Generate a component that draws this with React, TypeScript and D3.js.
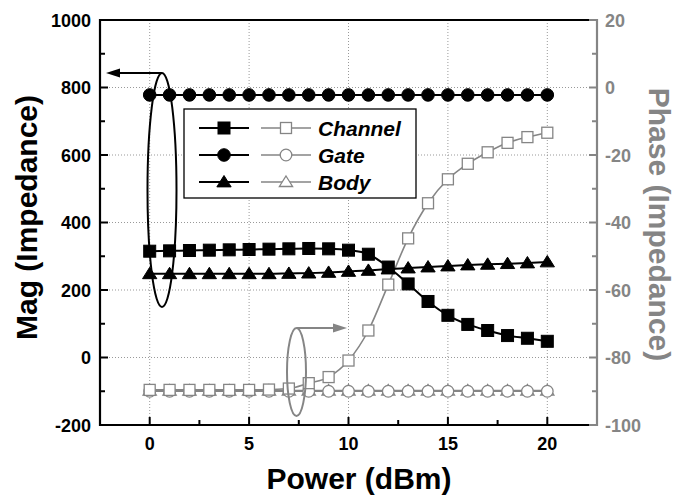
import React from "react";
import * as d3 from "d3";

const power = d3.range(0, 21);
const channelMag = [315, 316, 317, 318, 319, 320, 321, 322, 323, 322, 318, 306, 268, 218, 166, 125, 98, 80, 65, 57, 48];
const gateMag = [778, 778, 778, 778, 778, 778, 778, 778, 778, 778, 778, 778, 778, 778, 778, 778, 778, 778, 778, 778, 778];
const bodyMag = [248, 248, 248, 248, 248, 248, 248, 249, 250, 252, 255, 258, 262, 265, 268, 271, 274, 276, 278, 280, 283];
const channelPhase = [-89.6, -89.6, -89.6, -89.6, -89.6, -89.6, -89.5, -89.2, -87.6, -85.8, -80.9, -72, -58.4, -44.7, -34.3, -27.2, -22.6, -19.2, -16.4, -14.7, -13.4];
const gatePhase = [-90, -90, -90, -90, -90, -90, -90, -90, -90, -90, -90, -90, -90, -90, -90, -90, -90, -90, -90, -90, -90];
const bodyPhase = [-89.8, -89.8, -89.8, -89.8, -89.8, -89.8, -89.8, -89.8, -89.8, -89.8, -89.8, -89.8, -89.8, -89.8, -89.8, -89.8, -89.8, -89.8, -89.8, -89.8, -89.8];
const legendNames = ["Channel", "Gate", "Body"];
const xTicks = [0, 5, 10, 15, 20];
const xMinor = [2.5, 7.5, 12.5, 17.5];
const magTicks = [-200, 0, 200, 400, 600, 800, 1000];
const magMinor = [-100, 100, 300, 500, 700, 900];
const phaseTicks = [-100, -80, -60, -40, -20, 0, 20];
const phaseMinor = [-90, -70, -50, -30, -10, 10];

const GRAY = "#858585";
const FONT = "'Liberation Sans', Arial, sans-serif";

const L = 100, R = 597, T = 20, B = 425;

export default function App() {
  const x = d3.scaleLinear().domain([-2.5, 22.5]).range([L, R]);
  const yM = d3.scaleLinear().domain([-200, 1000]).range([B, T]);
  const yP = d3.scaleLinear().domain([-100, 20]).range([B, T]);

  const lineM = (vals: number[]) =>
    d3.line<number>().x((_, i) => x(power[i])).y((v) => yM(v)).curve(d3.curveMonotoneX)(vals) || "";
  const lineP = (vals: number[]) =>
    d3.line<number>().x((_, i) => x(power[i])).y((v) => yP(v)).curve(d3.curveMonotoneX)(vals) || "";

  const marker = (kind: string, cx: number, cy: number, filled: boolean, key: string) => {
    const fill = filled ? "#000" : "#fff";
    const stroke = filled ? "#000" : GRAY;
    const sw = filled ? 1 : 1.3;
    if (kind === "square") {
      const s = filled ? 12 : 11;
      return <rect key={key} x={cx - s / 2} y={cy - s / 2} width={s} height={s} fill={fill} stroke={stroke} strokeWidth={sw} />;
    }
    if (kind === "circle") {
      return <circle key={key} cx={cx} cy={cy} r={filled ? 6.3 : 5.8} fill={fill} stroke={stroke} strokeWidth={sw} />;
    }
    const h = filled ? 6.5 : 6;
    return (
      <path key={key} d={`M${cx},${cy - h} L${cx + h * 1.1},${cy + h * 0.75} L${cx - h * 1.1},${cy + h * 0.75} Z`} fill={fill} stroke={stroke} strokeWidth={sw} />
    );
  };

  const kinds = ["square", "circle", "triangle"];
  const magSeries = [channelMag, gateMag, bodyMag];
  const phaseSeries = [channelPhase, gatePhase, bodyPhase];

  return (
    <svg width={678} height={500} style={{ position: "absolute", left: 0, top: 0, background: "#fff" }} fontFamily={FONT}>
      <rect width={678} height={500} fill="#fff" />
      {/* grid */}
      {xTicks.map((t) => (
        <line key={"gx" + t} x1={x(t)} x2={x(t)} y1={T} y2={B} stroke="#999" strokeWidth={1} strokeDasharray="1,2" />
      ))}
      {magTicks.filter((t) => t > -200 && t < 1000).map((t) => (
        <line key={"gy" + t} x1={L} x2={R} y1={yM(t)} y2={yM(t)} stroke="#999" strokeWidth={1} strokeDasharray="1,2" />
      ))}

      {/* phase series (gray, hollow) */}
      {phaseSeries.map((vals, k) => (
        <g key={"ps" + k}>
          <path d={lineP(vals)} fill="none" stroke={GRAY} strokeWidth={1.6} />
        </g>
      ))}
      {[2, 1, 0].map((k) =>
        phaseSeries[k].map((v, i) => marker(kinds[k], x(power[i]), yP(v), false, `pm${k}-${i}`))
      )}

      {/* magnitude series (black, filled) */}
      {magSeries.map((vals, k) => (
        <path key={"ms" + k} d={lineM(vals)} fill="none" stroke="#000" strokeWidth={2} />
      ))}
      {magSeries.map((vals, k) => vals.map((v, i) => marker(kinds[k], x(power[i]), yM(v), true, `mm${k}-${i}`)))}

      {/* annotations */}
      <ellipse cx={162} cy={190} rx={14.5} ry={117} fill="none" stroke="#000" strokeWidth={2} />
      <line x1={162} y1={73} x2={115} y2={73} stroke="#000" strokeWidth={2} />
      <path d="M106,73 L120,68.5 L120,77.5 Z" fill="#000" />
      <ellipse cx={296.5} cy={372} rx={9.5} ry={44} fill="none" stroke={GRAY} strokeWidth={2} />
      <line x1={297} y1={328} x2={338} y2={328} stroke={GRAY} strokeWidth={2} />
      <path d="M347,328 L333,323.5 L333,332.5 Z" fill={GRAY} />

      {/* legend */}
      <rect x={184} y={109} width={232} height={89} fill="#fff" stroke="#000" strokeWidth={1.3} />
      {legendNames.map((name, k) => {
        const cy = 128 + k * 27;
        return (
          <g key={"lg" + k}>
            <line x1={199} x2={249} y1={cy} y2={cy} stroke="#000" strokeWidth={2} />
            {marker(kinds[k], 224, cy, true, "lgm" + k)}
            <line x1={261} x2={311} y1={cy} y2={cy} stroke={GRAY} strokeWidth={1.6} />
            {marker(kinds[k], 286, cy, false, "lgp" + k)}
            <text x={318} y={cy + 7.5} fontSize={21} fontWeight="bold" fontStyle="italic" fill="#000">{name}</text>
          </g>
        );
      })}

      {/* frame */}
      <line x1={L} x2={R} y1={T} y2={T} stroke="#000" strokeWidth={2.2} />
      <line x1={L} x2={R} y1={B} y2={B} stroke="#000" strokeWidth={2.2} />
      <line x1={L} x2={L} y1={T - 1} y2={B + 1} stroke="#000" strokeWidth={2.2} />
      <line x1={R} x2={R} y1={T - 1} y2={B + 1} stroke={GRAY} strokeWidth={2.2} />

      {/* left axis ticks */}
      {magTicks.map((t) => (
        <g key={"lt" + t}>
          <line x1={L} x2={L + 8} y1={yM(t)} y2={yM(t)} stroke="#000" strokeWidth={2} />
          <text x={L - 9} y={yM(t) + 6.5} textAnchor="end" fontSize={18} fontWeight="bold" fill="#000">{t}</text>
        </g>
      ))}
      {magMinor.map((t) => (
        <line key={"lm" + t} x1={L} x2={L + 5} y1={yM(t)} y2={yM(t)} stroke="#000" strokeWidth={2} />
      ))}

      {/* right axis ticks */}
      {phaseTicks.map((t) => (
        <g key={"rt" + t}>
          <line x1={R - 8} x2={R} y1={yP(t)} y2={yP(t)} stroke={GRAY} strokeWidth={2} />
          <text x={R + 8} y={yP(t) + 6.5} textAnchor="start" fontSize={18} fontWeight="bold" fill={GRAY}>{t}</text>
        </g>
      ))}
      {phaseMinor.map((t) => (
        <line key={"rm" + t} x1={R - 5} x2={R} y1={yP(t)} y2={yP(t)} stroke={GRAY} strokeWidth={2} />
      ))}

      {/* bottom axis ticks */}
      {xTicks.map((t) => (
        <g key={"bt" + t}>
          <line x1={x(t)} x2={x(t)} y1={B} y2={B - 8} stroke="#000" strokeWidth={2} />
          <text x={x(t)} y={B + 25} textAnchor="middle" fontSize={18} fontWeight="bold" fill="#000">{t}</text>
        </g>
      ))}
      {xMinor.map((t) => (
        <line key={"bm" + t} x1={x(t)} x2={x(t)} y1={B} y2={B - 5} stroke="#000" strokeWidth={2} />
      ))}

      {/* axis titles */}
      <text x={359} y={489} textAnchor="middle" fontSize={30} fontWeight="bold" fill="#000">Power (dBm)</text>
      <text transform={`translate(37,${(T + B) / 2 - 5}) rotate(-90)`} textAnchor="middle" fontSize={30} fontWeight="bold" fill="#000">Mag (Impedance)</text>
      <text transform={`translate(649,${(T + B) / 2 + 2}) rotate(90)`} textAnchor="middle" fontSize={30} fontWeight="bold" fill={GRAY}>Phase (Impedance)</text>
    </svg>
  );
}
